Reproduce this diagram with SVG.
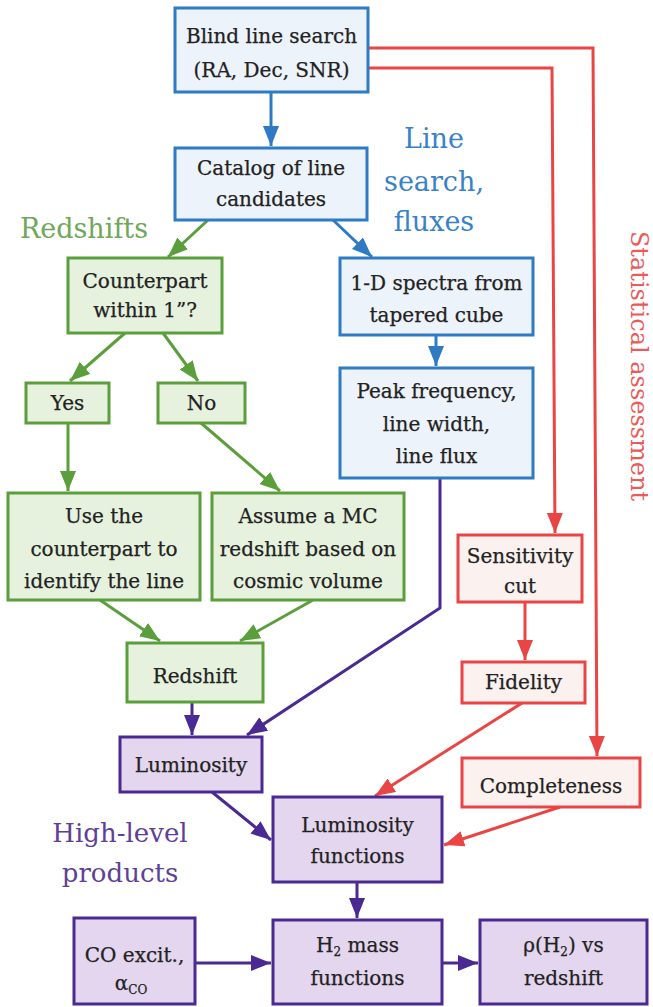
<svg xmlns="http://www.w3.org/2000/svg" width="653" height="1007" viewBox="0 0 653 1007">
<style>
text{font-family:"DejaVu Serif","Liberation Serif",serif;text-anchor:middle;fill:#222;}
.lbl{font-size:20px;stroke:#222;stroke-width:0.25;}
.blue rect{fill:#edf3fa;stroke:#2e7bc4;stroke-width:3;}
.green rect{fill:#e7f2de;stroke:#5b9e3c;stroke-width:3;}
.red rect{fill:#fbf1ef;stroke:#ea4545;stroke-width:3;}
.purple rect{fill:#e4d6ee;stroke:#4a2a92;stroke-width:3;}
.c{fill:none;stroke-width:3;}
.cb{stroke:#2e7bc4;}
.cg{stroke:#5b9e3c;}
.cr{stroke:#ea4545;}
.cp{stroke:#4a2a92;}
.title{font-size:27px;}
</style>
<defs>
<marker id="ab" markerUnits="userSpaceOnUse" markerWidth="22" markerHeight="16" refX="20" refY="8" orient="auto"><path d="M0,0 L20,8 L0,16 z" fill="#2e7bc4"/></marker>
<marker id="ag" markerUnits="userSpaceOnUse" markerWidth="22" markerHeight="16" refX="20" refY="8" orient="auto"><path d="M0,0 L20,8 L0,16 z" fill="#5b9e3c"/></marker>
<marker id="ar" markerUnits="userSpaceOnUse" markerWidth="22" markerHeight="16" refX="20" refY="8" orient="auto"><path d="M0,0 L20,8 L0,16 z" fill="#ea4545"/></marker>
<marker id="ap" markerUnits="userSpaceOnUse" markerWidth="22" markerHeight="16" refX="20" refY="8" orient="auto"><path d="M0,0 L20,8 L0,16 z" fill="#4a2a92"/></marker>
</defs>
<rect width="653" height="1007" fill="#ffffff"/>

<g id="connectors">
<path class="c cb" d="M271,92 L271,146" marker-end="url(#ab)"/>
<path class="c cb" d="M333,220 L372,257" marker-end="url(#ab)"/>
<path class="c cb" d="M436,335 L436,366" marker-end="url(#ab)"/>
<path class="c cg" d="M208,220 L168,257" marker-end="url(#ag)"/>
<path class="c cg" d="M125,333 L70,381" marker-end="url(#ag)"/>
<path class="c cg" d="M163,333 L198,381" marker-end="url(#ag)"/>
<path class="c cg" d="M68,423 L68,491" marker-end="url(#ag)"/>
<path class="c cg" d="M201,423 L280,491" marker-end="url(#ag)"/>
<path class="c cg" d="M100,600 L160,641" marker-end="url(#ag)"/>
<path class="c cg" d="M313,600 L240,641" marker-end="url(#ag)"/>
<path class="c cr" d="M368,48 L593,48 L597,756" marker-end="url(#ar)"/>
<path class="c cr" d="M368,68 L552,68 L555,533" marker-end="url(#ar)"/>
<path class="c cr" d="M525,602 L525,660" marker-end="url(#ar)"/>
<path class="c cr" d="M522,703 L375,796" marker-end="url(#ar)"/>
<path class="c cr" d="M560,807 L444,845" marker-end="url(#ar)"/>
<path class="c cp" d="M440,478 L440,608 L247,735" marker-end="url(#ap)"/>
<path class="c cp" d="M192,702 L192,735" marker-end="url(#ap)"/>
<path class="c cp" d="M212,792 L271,840" marker-end="url(#ap)"/>
<path class="c cp" d="M357,882 L357,918" marker-end="url(#ap)"/>
<path class="c cp" d="M195,963 L271,963" marker-end="url(#ap)"/>
<path class="c cp" d="M442,963 L478,963" marker-end="url(#ap)"/>
</g>

<g id="title-line-search"><text class="title" style="fill:#3a82c8"><tspan x="434" y="148">Line</tspan><tspan x="434" y="191">search,</tspan><tspan x="434" y="231">fluxes</tspan></text></g>
<g id="title-redshifts"><text class="title" style="fill:#6fa85a" x="84" y="238">Redshifts</text></g>
<g id="title-statistical"><text style="fill:#ea5a5a;font-size:24px" transform="translate(631,366) rotate(90)" x="0" y="0">Statistical assessment</text></g>
<g id="title-high-level"><text style="fill:#5e4196;font-size:26px"><tspan x="120" y="842">High-level</tspan><tspan x="120" y="882">products</tspan></text></g>

<g id="n-blind" class="blue"><rect x="175" y="8" width="193" height="84"/><text class="lbl"><tspan x="271.5" y="43">Blind line search</tspan><tspan x="271.5" y="77">(RA, Dec, SNR)</tspan></text></g>
<g id="n-catalog" class="blue"><rect x="175" y="148" width="192" height="72"/><text class="lbl"><tspan x="271" y="175">Catalog of line</tspan><tspan x="271" y="206">candidates</tspan></text></g>
<g id="n-spectra" class="blue"><rect x="340" y="258" width="193" height="77"/><text class="lbl"><tspan x="436.5" y="290">1-D spectra from</tspan><tspan x="436.5" y="322">tapered cube</tspan></text></g>
<g id="n-peak" class="blue"><rect x="340" y="368" width="193" height="110"/><text class="lbl"><tspan x="436.5" y="398">Peak frequency,</tspan><tspan x="436.5" y="431">line width,</tspan><tspan x="436.5" y="463">line flux</tspan></text></g>

<g id="n-counterpart" class="green"><rect x="68" y="258" width="154" height="75"/><text class="lbl"><tspan x="145" y="288">Counterpart</tspan><tspan x="145" y="317">within 1”?</tspan></text></g>
<g id="n-yes" class="green"><rect x="26" y="383" width="83" height="40"/><text class="lbl" x="67.5" y="410">Yes</text></g>
<g id="n-no" class="green"><rect x="158" y="383" width="87" height="40"/><text class="lbl" x="201.5" y="410">No</text></g>
<g id="n-use" class="green"><rect x="8" y="493" width="192" height="107"/><text class="lbl"><tspan x="104" y="523">Use the</tspan><tspan x="104" y="556">counterpart to</tspan><tspan x="104" y="588">identify the line</tspan></text></g>
<g id="n-assume" class="green"><rect x="212" y="493" width="192" height="107"/><text class="lbl"><tspan x="308" y="523">Assume a MC</tspan><tspan x="308" y="556">redshift based on</tspan><tspan x="308" y="588">cosmic volume</tspan></text></g>
<g id="n-redshift" class="green"><rect x="127" y="643" width="136" height="59"/><text class="lbl" x="195" y="683">Redshift</text></g>

<g id="n-sensitivity" class="red"><rect x="458" y="535" width="124" height="67"/><text class="lbl"><tspan x="520" y="563">Sensitivity</tspan><tspan x="520" y="593">cut</tspan></text></g>
<g id="n-fidelity" class="red"><rect x="462" y="662" width="123" height="41"/><text class="lbl" x="523.5" y="689">Fidelity</text></g>
<g id="n-completeness" class="red"><rect x="462" y="758" width="178" height="49"/><text class="lbl" x="551" y="793">Completeness</text></g>

<g id="n-luminosity" class="purple"><rect x="120" y="737" width="142" height="55"/><text class="lbl" x="191" y="772">Luminosity</text></g>
<g id="n-lumfunc" class="purple"><rect x="273" y="797" width="169" height="85"/><text class="lbl"><tspan x="357.5" y="832">Luminosity</tspan><tspan x="357.5" y="863">functions</tspan></text></g>
<g id="n-h2mass" class="purple"><rect x="273" y="920" width="169" height="84"/><text class="lbl"><tspan x="357.5" y="952">H<tspan font-size="12" dy="4">2</tspan><tspan dy="-4"> mass</tspan></tspan><tspan x="357.5" y="985">functions</tspan></text></g>
<g id="n-rho" class="purple"><rect x="480" y="920" width="167" height="84"/><text class="lbl"><tspan x="563.5" y="952">ρ(H<tspan font-size="12" dy="4">2</tspan><tspan dy="-4">) vs</tspan></tspan><tspan x="563.5" y="985">redshift</tspan></text></g>
<g id="n-co" class="purple"><rect x="74" y="918" width="121" height="86"/><text class="lbl"><tspan x="134.5" y="962">CO excit.,</tspan><tspan x="131" y="990">α<tspan font-size="12" dy="4">CO</tspan></tspan></text></g>
</svg>
